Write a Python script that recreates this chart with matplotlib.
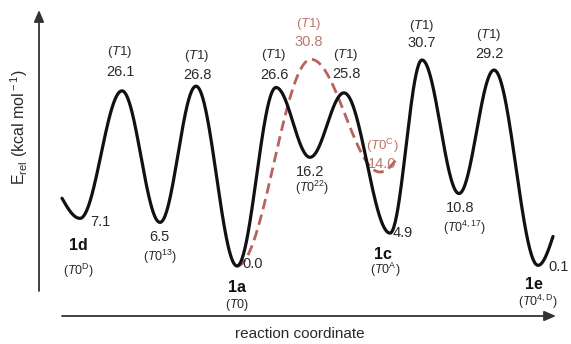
import numpy as np
import matplotlib
matplotlib.use('Agg')
import matplotlib.pyplot as plt

plt.rcParams['font.family'] = ['Liberation Sans', 'DejaVu Sans']
plt.rcParams['mathtext.fontset'] = 'custom'
plt.rcParams['mathtext.rm'] = 'Liberation Sans'
plt.rcParams['mathtext.it'] = 'Liberation Sans:italic'
plt.rcParams['mathtext.bf'] = 'Liberation Sans:bold'

# ---------------- data ----------------
# stationary points along the black profile (reaction coordinate, kcal/mol)
coord = [80, 122, 160, 196, 237, 276, 310, 344, 390, 422, 459, 494, 538]
energy = [7.1, 26.1, 6.5, 26.8, 0.0, 26.6, 16.2, 25.8, 4.9, 30.7, 10.8, 29.2, 0.1]
kind = ['min', 'ts', 'min', 'ts', 'min', 'ts', 'min', 'ts', 'min', 'ts', 'min', 'ts', 'min']
compound = ['1d', None, None, None, '1a', None, None, None, '1c', None, None, None, '1e']
state = [r'($\it{T0}^{\rm{D}}$)', r'($\it{T1}$)', r'($\it{T0}^{\rm{13}}$)', r'($\it{T1}$)',
         r'($\it{T0}$)', r'($\it{T1}$)', r'($\it{T0}^{\rm{22}}$)', r'($\it{T1}$)',
         r'($\it{T0}^{\rm{A}}$)', r'($\it{T1}$)', r'($\it{T0}^{\rm{4,17}}$)', r'($\it{T1}$)',
         r'($\it{T0}^{\rm{4,D}}$)']
curve_start = (62, 10.1)
curve_end = (553, 4.4)

# red dashed alternative path
coord_red = [237, 311, 380]
energy_red = [0.0, 30.8, 14.0]
kind_red = ['min', 'ts', 'min']
state_red = [None, r'($\it{T1}$)', r'($\it{T0}^{\rm{C}}$)']
red_end = (398, 16.2)

# ---------------- helpers ----------------
def profile(xs, es, start=None, end=None, n=80):
    X, Y = [], []
    if start is not None:
        x = np.linspace(start[0], xs[0], n)
        u = (xs[0] - x) / (xs[0] - start[0])
        X.append(x); Y.append(es[0] + (start[1] - es[0]) * (1 - np.cos(np.pi / 2 * u)))
    for i in range(len(xs) - 1):
        x = np.linspace(xs[i], xs[i + 1], n)
        t = (x - xs[i]) / (xs[i + 1] - xs[i])
        X.append(x); Y.append(es[i] + (es[i + 1] - es[i]) * (1 - np.cos(np.pi * t)) / 2)
    if end is not None:
        x = np.linspace(xs[-1], end[0], n)
        u = (x - xs[-1]) / (end[0] - xs[-1])
        X.append(x); Y.append(es[-1] + (end[1] - es[-1]) * (1 - np.cos(np.pi / 2 * u)))
    return np.concatenate(X), np.concatenate(Y)

W, H = 571, 344
fig = plt.figure(figsize=(W / 100, H / 100), dpi=100)
ax = fig.add_axes([0, 0, 1, 1])
ax.set_xlim(0, W)
scale = 6.71          # px per kcal/mol
zero_px = 266         # pixel row of E = 0 (from top)
ax.set_ylim((zero_px - H) / scale, zero_px / scale)
ax.axis('off')

black = '#111111'
red = '#b8635b'
red_txt = '#c0756c'
txt = '#2a2a2a'

xr, yr = profile(coord_red, energy_red, end=red_end)
ax.plot(xr, yr, color=red, lw=2.0, ls=(0, (3.8, 2.0)), zorder=1, solid_capstyle='butt')
xb, yb = profile(coord, energy, start=curve_start, end=curve_end)
ax.plot(xb, yb, color=black, lw=2.3, zorder=3, solid_capstyle='round')

P = 0.72  # points per pixel

def lab(x, e, s, dx, dy, **kw):
    ax.annotate(s, (x, e), xytext=(dx * P, dy * P), textcoords='offset points',
                ha='center', va='center', **kw)

num_fs = 10.5
st_fs = 9.5
sub_fs = 9

# per-minimum layout for number/compound/state (pixel offsets: dx, dy up-positive)
min_layout = {
    0: dict(num=(20, -4), cmp=(-2, -27), st=(-2, -53)),
    2: dict(num=(-1, -15), st=(0, -35)),
    4: dict(num=(16, 2), cmp=(0, -21), st=(0, -39)),
    6: dict(num=(0, -15), st=(2, -31)),
    8: dict(num=(13, 0), cmp=(-7, -21), st=(-5, -37)),
    10: dict(num=(1, -14), st=(6, -34)),
    12: dict(num=(21, -2), cmp=(-4, -19), st=(0, -37)),
}
ts_layout = {1: (-2, 19, 39), 3: (1, 11, 30), 5: (-2, 13, 33), 7: (2, 19, 38),
             9: (0, 17, 34), 11: (-5, 16, 35)}

for i, (x, e, k) in enumerate(zip(coord, energy, kind)):
    if k == 'ts':
        dx, dn, ds = ts_layout[i]
        lab(x, e, f'{e:.1f}', dx, dn, fontsize=num_fs, color=txt)
        lab(x, e, state[i], dx, ds, fontsize=st_fs, color=txt)
    else:
        L = min_layout[i]
        lab(x, e, f'{e:.1f}', *L['num'], fontsize=num_fs, color=txt)
        lab(x, e, state[i], *L['st'], fontsize=sub_fs, color=txt)
        if compound[i]:
            lab(x, e, compound[i], *L['cmp'], fontsize=11.5, color=black, fontweight='bold')

# red labels
lab(coord_red[1], energy_red[1], f'{energy_red[1]:.1f}', -2, 17, fontsize=num_fs, color=red_txt)
lab(coord_red[1], energy_red[1], state_red[1], -2, 35, fontsize=st_fs, color=red_txt)
lab(coord_red[2], energy_red[2], f'{energy_red[2]:.1f}', 2, 8, fontsize=num_fs, color=red_txt, zorder=2)
lab(coord_red[2], energy_red[2], state_red[2], 2, 26, fontsize=st_fs, color=red_txt, zorder=2)

# axes arrows (figure pixels, origin bottom-left)
axc = '#333333'
ax.annotate('', xy=(39, H - 10), xytext=(39, H - 291), xycoords='figure pixels',
            textcoords='figure pixels',
            arrowprops=dict(arrowstyle='-|>,head_length=0.7,head_width=0.3', color=axc, lw=1.3,
                            shrinkA=0, shrinkB=0))
ax.annotate('', xy=(556, H - 316), xytext=(62, H - 316), xycoords='figure pixels',
            textcoords='figure pixels',
            arrowprops=dict(arrowstyle='-|>,head_length=0.7,head_width=0.3', color=axc, lw=1.3,
                            shrinkA=0, shrinkB=0))

fig.text(300 / W, 1 - 334 / H, 'reaction coordinate', ha='center', va='center',
         fontsize=11, color=txt)
fig.text(19 / W, 1 - 127 / H, r'E$_{\rm rel}$ (kcal mol$^{\rm -1}$)', ha='center', va='center',
         rotation=90, fontsize=11.5, color=txt)

fig.savefig('out.png', dpi=100)
